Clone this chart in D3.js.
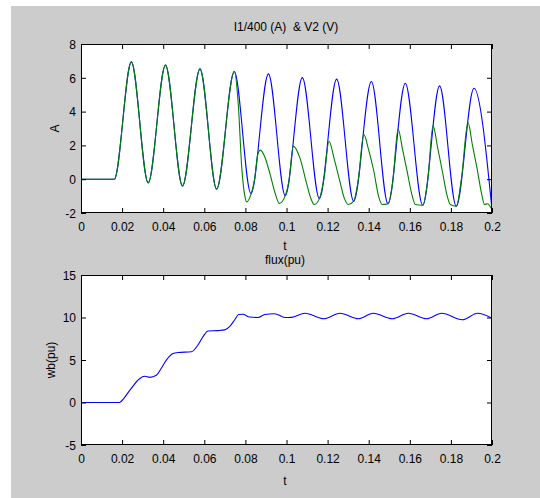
<!DOCTYPE html>
<html><head><meta charset="utf-8">
<script src="https://cdn.jsdelivr.net/npm/d3@7"></script>
<style>
html,body{margin:0;padding:0;background:#fff;}
svg{display:block;}
text{font-family:"Liberation Sans",Arial,Helvetica,sans-serif;fill:#000;}
</style></head><body>
<svg id="chart" width="540" height="498"></svg>
<script>
// ---- data ----
const timeTicks = [0, 0.02, 0.04, 0.06, 0.08, 0.1, 0.12, 0.14, 0.16, 0.18, 0.2];
const timeTickLabels = ["0", "0.02", "0.04", "0.06", "0.08", "0.1", "0.12", "0.14", "0.16", "0.18", "0.2"];
const topYTicks = [-2, 0, 2, 4, 6, 8];
const topYTickLabels = ["-2", "0", "2", "4", "6", "8"];
const bottomYTicks = [-5, 0, 5, 10, 15];
const bottomYTickLabels = ["-5", "0", "5", "10", "15"];

// I1/400 (blue)
const i1Time = [0, 0.0162, 0.0245, 0.0327, 0.0411, 0.0494, 0.0579, 0.0660, 0.0746, 0.0827, 0.0912, 0.0994, 0.1077, 0.1160, 0.1244, 0.1327, 0.1413, 0.1494, 0.1578, 0.1663, 0.1745, 0.1826, 0.1912, 0.2000];
const i1Value = [0, 0, 6.94, -0.22, 6.75, -0.40, 6.53, -0.59, 6.37, -0.85, 6.23, -0.97, 6.01, -1.15, 5.92, -1.30, 5.78, -1.45, 5.68, -1.54, 5.52, -1.60, 5.38, -1.80];

// V2 (green)
const v2Time = [0, 0.0162, 0.0245, 0.0327, 0.0411, 0.0494, 0.0579, 0.0660, 0.0746, 0.0766, 0.0782, 0.0798, 0.0806, 0.0827, 0.0845, 0.0860, 0.0873, 0.0895, 0.0920, 0.0944, 0.0965, 0.0994, 0.1012, 0.1033, 0.1066, 0.1098, 0.1122, 0.1135, 0.1160, 0.1183, 0.1207, 0.1232, 0.1257, 0.1282, 0.1301, 0.1327, 0.1350, 0.1376, 0.1400, 0.1424, 0.1449, 0.1465, 0.1494, 0.1517, 0.1543, 0.1565, 0.1588, 0.1610, 0.1627, 0.1663, 0.1688, 0.1713, 0.1735, 0.1758, 0.1780, 0.1797, 0.1826, 0.1852, 0.1883, 0.1905, 0.1928, 0.1950, 0.1964, 0.1978, 0.2000];
const v2Value = [0, 0, 6.94, -0.22, 6.75, -0.40, 6.53, -0.59, 6.37, 4.3, 0.73, -1.05, -1.35, -0.9, 0.0, 1.45, 1.72, 1.3, 0.3, -0.8, -1.43, -0.97, -0.1, 1.96, 1.23, -0.26, -1.25, -1.5, -1.15, 0.1, 2.25, 1.2, 0.0, -1.15, -1.5, -1.3, 0.0, 2.65, 1.72, 0.53, -1.05, -1.5, -1.45, -0.17, 2.97, 1.75, 0.4, -0.9, -1.5, -1.54, 0.0, 3.17, 1.9, 0.5, -0.9, -1.5, -1.6, 0.1, 3.36, 2.0, 0.6, -0.9, -1.5, -1.45, -1.8];

// flux (pu)
const fluxTime = [0, 0.0188, 0.0196, 0.0237, 0.0285, 0.0310, 0.0334, 0.0367, 0.0390, 0.0415, 0.0448, 0.0472, 0.0537, 0.0569, 0.0594, 0.0618, 0.0667, 0.0699, 0.0723, 0.0748, 0.0767, 0.0788, 0.0820, 0.0861, 0.0894, 0.0942, 0.0993, 0.1025, 0.1090, 0.1182, 0.1260, 0.1350, 0.1422, 0.1515, 0.1593, 0.1682, 0.1755, 0.1856, 0.1930, 0.2000];
const fluxValue = [0, 0, 0.15, 1.42, 2.8, 3.08, 2.96, 3.2, 4.0, 4.98, 5.77, 5.89, 5.97, 6.76, 7.75, 8.42, 8.46, 8.54, 8.93, 9.73, 10.35, 10.38, 10.05, 10.0, 10.35, 10.45, 10.0, 10.02, 10.5, 9.85, 10.5, 9.85, 10.5, 9.85, 10.5, 9.85, 10.5, 9.73, 10.5, 9.9];

// ---- drawing ----
const svg = d3.select("#chart");
svg.append("rect").attr("x", 11).attr("y", 6).attr("width", 529).attr("height", 492).attr("fill", "#cccccc");

const L = 81, R = 492;
const x = d3.scaleLinear().domain([0, 0.2]).range([L, R]);

function panel(id, top, bottom, yDomain, yTicks, yTickLabels, series, yLabel, yLabelX) {
  const y = d3.scaleLinear().domain(yDomain).range([bottom, top]);
  const g = svg.append("g");
  g.append("rect").attr("x", L).attr("y", top).attr("width", R - L).attr("height", bottom - top).attr("fill", "#fff");
  const clip = svg.append("clipPath").attr("id", id).append("rect")
    .attr("x", L).attr("y", top - 1).attr("width", R - L).attr("height", bottom - top + 2);
  const lines = g.append("g").attr("clip-path", `url(#${id})`);
  series.forEach(s => {
    const pts = d3.zip(s.t, s.v);
    lines.append("path").datum(pts)
      .attr("fill", "none").attr("stroke", s.color).attr("stroke-width", 1.1)
      .attr("stroke-linejoin", "round")
      .attr("d", d3.line().x(d => x(d[0])).y(d => y(d[1])).curve(d3.curveMonotoneX));
  });
  const axStyle = sel => {
    sel.select(".domain").remove();
    sel.selectAll(".tick line").attr("stroke", "#000");
    sel.selectAll("text").style("font-size", "12px").attr("fill", "#000");
  };
  g.append("g").attr("transform", `translate(0,${bottom})`)
    .call(d3.axisBottom(x).tickValues(timeTicks).tickFormat((d, i) => timeTickLabels[i]).tickSizeInner(-5).tickSizeOuter(0))
    .call(axStyle)
    .call(s => s.selectAll("text").attr("y", 17.5).attr("dy", 0));
  g.append("g").attr("transform", `translate(0,${top})`)
    .call(d3.axisTop(x).tickValues(timeTicks).tickFormat("").tickSizeInner(-5).tickSizeOuter(0))
    .call(axStyle);
  g.append("g").attr("transform", `translate(${L},0)`)
    .call(d3.axisLeft(y).tickValues(yTicks).tickFormat((d, i) => yTickLabels[i]).tickSizeInner(-5).tickSizeOuter(0))
    .call(axStyle)
    .call(s => s.selectAll("text").attr("x", -5).attr("dy", "0.36em"));
  g.append("g").attr("transform", `translate(${R},0)`)
    .call(d3.axisRight(y).tickValues(yTicks).tickFormat("").tickSizeInner(-5).tickSizeOuter(0))
    .call(axStyle);
  g.append("rect").attr("x", L + 0.5).attr("y", top + 0.5).attr("width", R - L - 1).attr("height", bottom - top - 1)
    .attr("fill", "none").attr("stroke", "#000").attr("stroke-width", 1);
  svg.append("text").attr("transform", `translate(${yLabelX},${(top + bottom) / 2}) rotate(-90)`)
    .attr("text-anchor", "middle").style("font-size", "12px").text(yLabel);
}

panel("clipTop", 44, 213, [-2, 8], topYTicks, topYTickLabels, [
  { t: i1Time, v: i1Value, color: "#0000ff" },
  { t: v2Time, v: v2Value, color: "#008000" }
], "A", 58.5);

panel("clipBottom", 275, 445, [-5, 15], bottomYTicks, bottomYTickLabels, [
  { t: fluxTime, v: fluxValue, color: "#0000ff" }
], "wb(pu)", 55);

const txt = (xx, yy, s) => svg.append("text").attr("x", xx).attr("y", yy).attr("text-anchor", "middle")
  .style("font-size", "12px").style("white-space", "pre").text(s);
txt(286, 31, "I1/400 (A)  & V2 (V)");
txt(285, 250, "t");
txt(285, 264, "flux(pu)");
txt(285, 485, "t");
</script>
</body></html>
